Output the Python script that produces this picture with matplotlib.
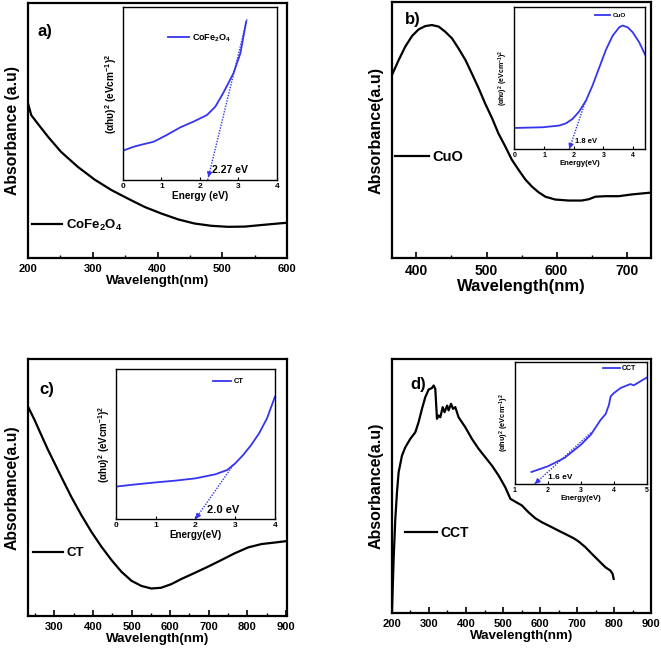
import matplotlib
matplotlib.use("Agg")
import matplotlib.pyplot as plt
from matplotlib.ticker import MultipleLocator

plt.rcParams['font.family'] = ['Liberation Sans', 'DejaVu Sans']
plt.rcParams['font.weight'] = 'bold'
plt.rcParams['mathtext.fontset'] = 'custom'
plt.rcParams['mathtext.rm'] = 'Liberation Sans:bold'
plt.rcParams['mathtext.bf'] = 'Liberation Sans:bold'
plt.rcParams['mathtext.it'] = 'Liberation Sans:bold'

# ---------------- data (normalised absorbance, arbitrary units) ----------------
a_wl = [200, 205, 215, 231, 251, 277, 303, 329, 354, 380, 406, 432, 457, 483, 509, 535, 560, 586, 600]
a_abs = [0.607, 0.561, 0.528, 0.476, 0.417, 0.358, 0.308, 0.267, 0.234, 0.201, 0.175, 0.152, 0.136, 0.127,
         0.123, 0.124, 0.130, 0.136, 0.139]

b_wl = [365, 374.5, 384, 393.6, 403, 412.6, 422, 431.7, 441, 450.7, 460, 470, 479, 488.8, 498, 508, 517, 527,
        536, 546, 555.5, 565, 574.5, 584, 598, 617, 636, 646, 655.5, 670, 689, 708, 735]
b_abs = [0.715, 0.773, 0.826, 0.867, 0.893, 0.906, 0.910, 0.904, 0.884, 0.858, 0.819, 0.773, 0.721, 0.663,
         0.604, 0.546, 0.487, 0.435, 0.385, 0.344, 0.307, 0.279, 0.257, 0.240, 0.229, 0.225, 0.225, 0.230,
         0.240, 0.242, 0.242, 0.249, 0.256]

c_wl = [232, 249, 266.5, 284, 301, 318, 344, 370, 396, 422, 448, 474, 500, 525.6, 551.5, 577, 603, 629, 664,
        698, 733, 767, 802, 836.5, 871, 904]
c_abs = [0.815, 0.763, 0.704, 0.646, 0.594, 0.542, 0.464, 0.393, 0.328, 0.270, 0.218, 0.172, 0.137, 0.117,
         0.107, 0.110, 0.124, 0.144, 0.168, 0.192, 0.218, 0.244, 0.267, 0.280, 0.286, 0.292]

d_wl = [200, 204.5, 209, 213.5, 218, 227, 236, 249.5, 263, 272, 281, 290, 299, 308, 312.6, 317, 321.6, 326,
        330.6, 337, 342, 349, 353, 359.5, 365, 371, 380, 398, 416, 434, 452, 470, 488, 506, 520, 533, 551, 569,
        587, 605, 623, 650, 677.5, 691, 704.5, 722.5, 740.5, 758.5, 776.6, 790, 796, 799]
d_abs = [0.003, 0.213, 0.370, 0.475, 0.554, 0.619, 0.652, 0.685, 0.711, 0.751, 0.803, 0.849, 0.879, 0.885,
         0.895, 0.882, 0.764, 0.777, 0.770, 0.810, 0.790, 0.816, 0.797, 0.823, 0.803, 0.810, 0.770, 0.731,
         0.685, 0.646, 0.613, 0.580, 0.541, 0.495, 0.449, 0.438, 0.423, 0.396, 0.373, 0.357, 0.344, 0.324,
         0.304, 0.294, 0.281, 0.259, 0.232, 0.206, 0.180, 0.167, 0.154, 0.134]

# Tauc plots (insets)
a_E = [0, 0.28, 0.45, 0.8, 1.14, 1.49, 1.83, 2.18, 2.4, 2.6, 2.87, 3.05, 3.2]
a_T = [0.17, 0.193, 0.203, 0.222, 0.261, 0.305, 0.338, 0.376, 0.425, 0.502, 0.618, 0.734, 0.917]
a_fit_E = [3.22, 2.2]
a_fit_T = [0.93, 0.0]

b_E = [0, 0.95, 1.51, 1.74, 1.96, 2.18, 2.41, 2.63, 2.86, 3.08, 3.31, 3.53, 3.64, 3.81, 3.98, 4.2, 4.4]
b_T = [0.148, 0.153, 0.165, 0.181, 0.212, 0.264, 0.341, 0.447, 0.576, 0.699, 0.80, 0.859, 0.871, 0.859,
       0.824, 0.753, 0.665]
b_fit_E = [2.4, 1.85]
b_fit_T = [0.34, 0.0]

c_E = [0, 0.5, 1, 1.5, 2, 2.5, 2.8, 3.0, 3.2, 3.4, 3.6, 3.8, 4.0]
c_T = [0.216, 0.231, 0.244, 0.256, 0.271, 0.298, 0.327, 0.371, 0.427, 0.493, 0.571, 0.671, 0.816]
c_fit_E = [2.95, 2.0]
c_fit_T = [0.36, 0.0]

d_E = [1.5, 2, 2.5, 3, 3.3, 3.5, 3.6, 3.75, 3.85, 3.9, 4.0, 4.2, 4.5, 4.6, 4.8, 5.0]
d_T = [0.098, 0.145, 0.213, 0.322, 0.404, 0.486, 0.527, 0.574, 0.65, 0.718, 0.746, 0.787, 0.82, 0.809, 0.842, 0.874]
d_fit_E = [3.3, 1.6]
d_fit_T = [0.42, 0.0]

names = ['CoFe$_{2}$O$_{4}$', 'CuO', 'CT', 'CCT']
gaps = ['2.27 eV', '1.8 eV', '2.0 eV', '1.6 eV']
panel_letters = ['a)', 'b)', 'c)', 'd)']

BLUE = '#3535f0'

fig = plt.figure(figsize=(6.61, 6.62), dpi=100)

main_rects = [[0.0424, 0.610, 0.392, 0.385],
              [0.593, 0.610, 0.392, 0.387],
              [0.0424, 0.0695, 0.392, 0.388],
              [0.593, 0.074, 0.392, 0.384]]
inset_rects = [[0.186, 0.728, 0.233, 0.261],
               [0.778, 0.775, 0.198, 0.214],
               [0.1755, 0.216, 0.2405, 0.2266],
               [0.779, 0.269, 0.1997, 0.184]]

main_data = [(a_wl, a_abs), (b_wl, b_abs), (c_wl, c_abs), (d_wl, d_abs)]
xlims = [(200, 600), (365, 735), (232, 903), (200, 900)]
xmajor = [100, 100, 100, 100]
xminor = [50, 50, 50, 50]
tick_fs = [8, 10, 8, 8]
xlabel_fs = [9.6, 12, 9.6, 9.6]
ylabel_fs = [11.3, 11.6, 11.3, 11.5]
ylabels = ['Absorbance (a.u)', 'Absorbance(a.u)', 'Absorbance(a.u)', 'Absorbance(a.u)']
leg_pos = [(0.015, 0.13), (0.012, 0.395), (0.018, 0.245), (0.05, 0.315)]
leg_fs = [9.5, 10.5, 9.5, 10]
letter_pos = [(0.035, 0.89), (0.05, 0.93), (0.045, 0.88), (0.07, 0.90)]

inset_data = [(a_E, a_T, a_fit_E, a_fit_T), (b_E, b_T, b_fit_E, b_fit_T),
              (c_E, c_T, c_fit_E, c_fit_T), (d_E, d_T, d_fit_E, d_fit_T)]
inset_xlims = [(0, 4), (0, 4.4), (0, 4), (1, 5)]
inset_xticks = [[0, 1, 2, 3, 4], [0, 1, 2, 3, 4], [0, 1, 2, 3, 4], [1, 2, 3, 4, 5]]
inset_xlabels = ['Energy (eV)', 'Energy(eV)', 'Energy(eV)', 'Energy(eV)']
inset_tick_fs = [6, 5, 6, 5]
inset_lab_fs = [7.3, 5.6, 7.1, 5.6]
inset_ylab_fs = [7.3, 5.0, 7.0, 5.3]
inset_leg_pos = [(0.29, 0.82), (0.62, 0.94), (0.61, 0.915), (0.67, 0.945)]
inset_leg_fs = [6.5, 4.5, 5.5, 5.0]
gap_txt_pos = [(2.32, 0.06), (2.05, 0.05), (2.3, 0.06), (2.0, 0.05)]
gap_fs = [7.5, 5.5, 8, 6]

ylab_inset = r'(αhυ)$^{2}$ (eVcm$^{-1}$)$^{2}$'

for i in range(4):
    ax = fig.add_axes(main_rects[i])
    x, y = main_data[i]
    ax.plot(x, y, color='black', lw=1.6, label=names[i])
    ax.set_xlim(*xlims[i])
    ax.set_ylim(0, 1)
    ax.set_yticks([])
    ax.xaxis.set_major_locator(MultipleLocator(xmajor[i]))
    ax.xaxis.set_minor_locator(MultipleLocator(xminor[i]))
    ax.tick_params(axis='x', which='major', direction='in', length=4, width=1.2,
                   labelsize=tick_fs[i], pad=4)
    ax.tick_params(axis='x', which='minor', direction='in', length=2.5, width=1.0)
    for lab in ax.get_xticklabels():
        lab.set_fontweight('bold')
    for s in ax.spines.values():
        s.set_linewidth(1.6)
    ax.set_xlabel('Wavelength(nm)', fontsize=xlabel_fs[i], fontweight='bold', labelpad=1)
    ax.set_ylabel(ylabels[i], fontsize=ylabel_fs[i], fontweight='bold', labelpad=6)
    ax.legend(loc='center left', bbox_to_anchor=leg_pos[i], frameon=False,
              prop={'size': leg_fs[i], 'weight': 'bold'}, handlelength=2.3,
              handletextpad=0.25, borderpad=0, borderaxespad=0)
    ax.text(letter_pos[i][0], letter_pos[i][1], panel_letters[i], transform=ax.transAxes,
            fontsize=12, fontweight='bold', va='center', ha='left')

    # inset
    ia = fig.add_axes(inset_rects[i])
    E, T, fE, fT = inset_data[i]
    ia.plot(E, T, color=BLUE, lw=1.3, label=names[i])
    ia.plot(fE, fT, color=BLUE, lw=1.0, ls=(0, (1.0, 1.0)))
    ia.annotate('', xy=(fE[1], fT[1]), xytext=(fE[1] + (fE[0] - fE[1]) * 0.05, fT[1] + (fT[0] - fT[1]) * 0.05),
                arrowprops=dict(arrowstyle='-|>', color=BLUE, lw=1.0, mutation_scale=7))
    ia.text(gap_txt_pos[i][0], gap_txt_pos[i][1], gaps[i], fontsize=gap_fs[i], fontweight='bold',
            va='center', ha='left')
    ia.set_xlim(*inset_xlims[i])
    ia.set_ylim(0, 1)
    ia.set_yticks([])
    ia.set_xticks(inset_xticks[i])
    ia.tick_params(axis='x', direction='in', length=2.5, width=0.8, labelsize=inset_tick_fs[i], pad=2)
    for lab in ia.get_xticklabels():
        lab.set_fontweight('bold')
    for s in ia.spines.values():
        s.set_linewidth(1.0)
    ia.set_xlabel(inset_xlabels[i], fontsize=inset_lab_fs[i], fontweight='bold', labelpad=1)
    ia.set_ylabel(ylab_inset, fontsize=inset_ylab_fs[i], fontweight='bold', labelpad=3)
    ia.legend(loc='center left', bbox_to_anchor=inset_leg_pos[i], frameon=False,
              prop={'size': inset_leg_fs[i], 'weight': 'bold'}, handlelength=2.4,
              handletextpad=0.3, borderpad=0, borderaxespad=0)

fig.savefig('out.png', dpi=100)
